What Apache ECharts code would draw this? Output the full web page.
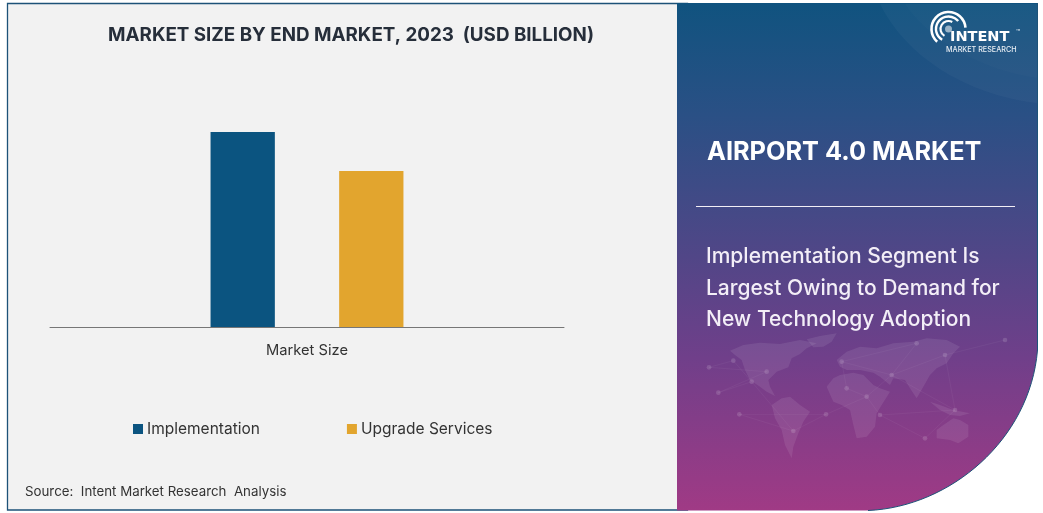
<!DOCTYPE html>
<html><head><meta charset="utf-8">
<style>html,body{margin:0;padding:0;background:#fff}#c{width:1043px;height:513px}</style>
<script src="https://cdn.jsdelivr.net/npm/echarts@6/dist/echarts.min.js"></script>
</head><body><div id="c"></div>
<script>
const categories = ['Market Size'];
const implementation = [5];
const upgradeServices = [4];
const titleText = 'MARKET SIZE BY END MARKET, 2023  (USD BILLION)';
const panelTitle = 'AIRPORT 4.0 MARKET';
const panelLines = ['Implementation Segment Is', 'Largest Owing to Demand for', 'New Technology Adoption'];
const sourceText = 'Source:  Intent Market Research  Analysis';

const land = [
 'M210 62L250 45L300 38L360 42L420 30L470 40L440 55L420 72L395 85L385 112L350 125L325 150L330 170L345 198L320 185L300 170L270 150L255 120L245 90L225 75Z',
 'M440 28L480 18L530 10L515 35L490 50L460 52Z',
 'M335 225L365 205L390 200L420 225L450 245L430 275L415 310L400 350L395 385L375 345L365 300L345 265Z',
 'M500 170L520 145L540 135L580 128L610 135L640 165L660 175L690 185L665 225L650 250L645 290L620 320L590 325L580 285L570 240L545 225L520 215Z',
 'M530 90L560 65L600 50L650 55L700 40L760 35L800 25L860 30L900 50L880 70L860 100L830 115L810 135L790 170L770 205L750 175L735 150L700 145L690 165L660 140L640 128L600 120L560 120L540 110Z',
 'M830 300L850 285L880 265L900 270L925 285L925 320L895 340L870 330L830 325Z',
 'M810 215L840 225L880 240L930 250L900 258L870 255L840 240Z'
];
const nodes = [[147,112],[220,92],[175,188],[238,253],[275,155],[320,125],[400,303],[498,253],[545,95],[695,135],[660,255],[885,240],[795,325],[620,200],[770,40],[855,75],[1035,30],[560,175]];
const links = [[0,1],[0,5],[1,4],[2,4],[2,5],[3,7],[4,6],[6,7],[7,13],[13,9],[9,14],[9,15],[8,9],[8,14],[10,11],[10,13],[11,15],[11,12],[10,12],[15,16],[9,11],[17,13],[17,8],[3,6]];

const F = 'Inter, "Open Sans", sans-serif';
let shapeCount = 0;
function pathType(d){
  const name = 'deco' + (shapeCount++);
  echarts.graphic.registerShape(name, echarts.graphic.extendPath(d, {}));
  return name;
}
const mapEls = [];
land.forEach(d => mapEls.push({type:pathType(d), style:{fill:'rgba(255,255,255,0.085)'}, z:-5}));
links.forEach(l => mapEls.push({type:'line', shape:{x1:nodes[l[0]][0],y1:nodes[l[0]][1],x2:nodes[l[1]][0],y2:nodes[l[1]][1]}, style:{stroke:'rgba(255,255,255,0.07)',lineWidth:2}, z:-4}));
nodes.forEach(n => mapEls.push({type:'circle', shape:{cx:n[0],cy:n[1],r:7}, style:{fill:'rgba(255,255,255,0.14)'}, z:-4}));

const arc = (r,a,b,w) => ({type:'arc', shape:{cx:948.5,cy:29,r:r,startAngle:a,endAngle:b,clockwise:true}, style:{fill:null,stroke:'#fff',lineWidth:w}, z:5});

const chart = echarts.init(document.getElementById('c'));
chart.setOption({
  animation:false,
  backgroundColor:'#fff',
  title:{text:titleText,left:351,top:26,textAlign:'center',padding:0,textStyle:{fontFamily:F,fontSize:18.8,fontWeight:700,color:'#262e3a'}},
  grid:{left:50,right:479,top:93,bottom:186},
  legend:{show:true,left:133,top:421,padding:0,itemWidth:10,itemHeight:10,itemGap:87,icon:'rect',
    textStyle:{fontFamily:F,fontSize:15.5,color:'#333',padding:[0,0,0,-1]}},
  xAxis:{type:'category',data:categories,axisTick:{show:false},
    axisLine:{lineStyle:{color:'#767676',width:1}},
    axisLabel:{fontFamily:F,fontSize:14.7,color:'#333',margin:16}},
  yAxis:{type:'value',min:0,max:6,interval:1,show:false,splitLine:{show:false}},
  series:[
    {name:'Implementation',type:'bar',data:implementation,barWidth:64.3,barGap:'100%',itemStyle:{color:'#0b5480'},z:3},
    {name:'Upgrade Services',type:'bar',data:upgradeServices,barWidth:64.3,itemStyle:{color:'#e2a52e'},z:3}
  ],
  graphic:{elements:[
    {type:'rect',shape:{x:7.5,y:3.5,width:680,height:506.5},style:{fill:'#f2f2f2',stroke:'#1d5278',lineWidth:1.3},z:-10},
    {type:pathType('M677 3H1037.5V350C1030 440 950 507 868 510.5H677Z'),
     style:{fill:{type:'linear',x:0,y:0,x2:0,y2:1,colorStops:[
       {offset:0,color:'#10537f'},{offset:0.22,color:'#2a5085'},{offset:0.5,color:'#514687'},{offset:0.7,color:'#703f8a'},{offset:1,color:'#a03a85'}]}},z:-8},
    {type:pathType('M1037.5 3V350C1030 440 950 507 868 510.5'),style:{fill:null,stroke:'#1d5278',lineWidth:1},z:-7},
    {type:pathType('M880 4C905 55 965 95 1037 103V4Z'),style:{fill:'rgba(255,255,255,0.03)'},z:-7},
    {type:pathType('M905 4C930 40 980 70 1037 78V4Z'),style:{fill:'rgba(255,255,255,0.015)'},z:-7},
    {type:'group',x:660,y:330,scaleX:1/3,scaleY:1/3,silent:true,children:mapEls},
    {type:'text',style:{text:sourceText,x:25,y:492,verticalAlign:'middle',fontFamily:F,fontSize:13.3,fill:'#333'},z:5},
    {type:'text',style:{text:panelTitle,x:707,y:152,verticalAlign:'middle',fontFamily:F,fontSize:25.3,fontWeight:700,fill:'#fff'},z:5},
    {type:'line',shape:{x1:696,y1:206.5,x2:1015,y2:206.5},style:{stroke:'#f2eef5',lineWidth:1},z:5},
    {type:'text',style:{text:panelLines[0],x:706,y:257,verticalAlign:'middle',fontFamily:F,fontSize:21,fontWeight:500,fill:'#f3eef7'},z:5},
    {type:'text',style:{text:panelLines[1],x:706,y:289,verticalAlign:'middle',fontFamily:F,fontSize:21,fontWeight:500,fill:'#f3eef7'},z:5},
    {type:'text',style:{text:panelLines[2],x:706,y:320,verticalAlign:'middle',fontFamily:F,fontSize:21,fontWeight:500,fill:'#f3eef7'},z:5},
    arc(17,2.3,6.2,2.6), arc(12.5,2.1,5.6,2.4), arc(8,2.1,5.2,2.2),
    {type:'circle',shape:{cx:948.5,cy:29,r:3.5},style:{fill:'rgba(255,255,255,0.55)'},z:5},
    {type:'text',style:{text:'INTENT',x:950,y:37,verticalAlign:'middle',fontFamily:'"DejaVu Sans"',fontSize:14.5,fontWeight:700,fill:'#fff'},z:6},
    {type:'text',style:{text:'™',x:1016,y:33,verticalAlign:'middle',fontFamily:F,fontSize:7,fill:'#dfe8f0'},z:6},
    {type:'text',style:{text:'MARKET RESEARCH',x:946,y:49.5,verticalAlign:'middle',fontFamily:F,fontSize:7.2,fontWeight:500,fill:'#e8eef4'},z:6}
  ]}
});
</script></body></html>
